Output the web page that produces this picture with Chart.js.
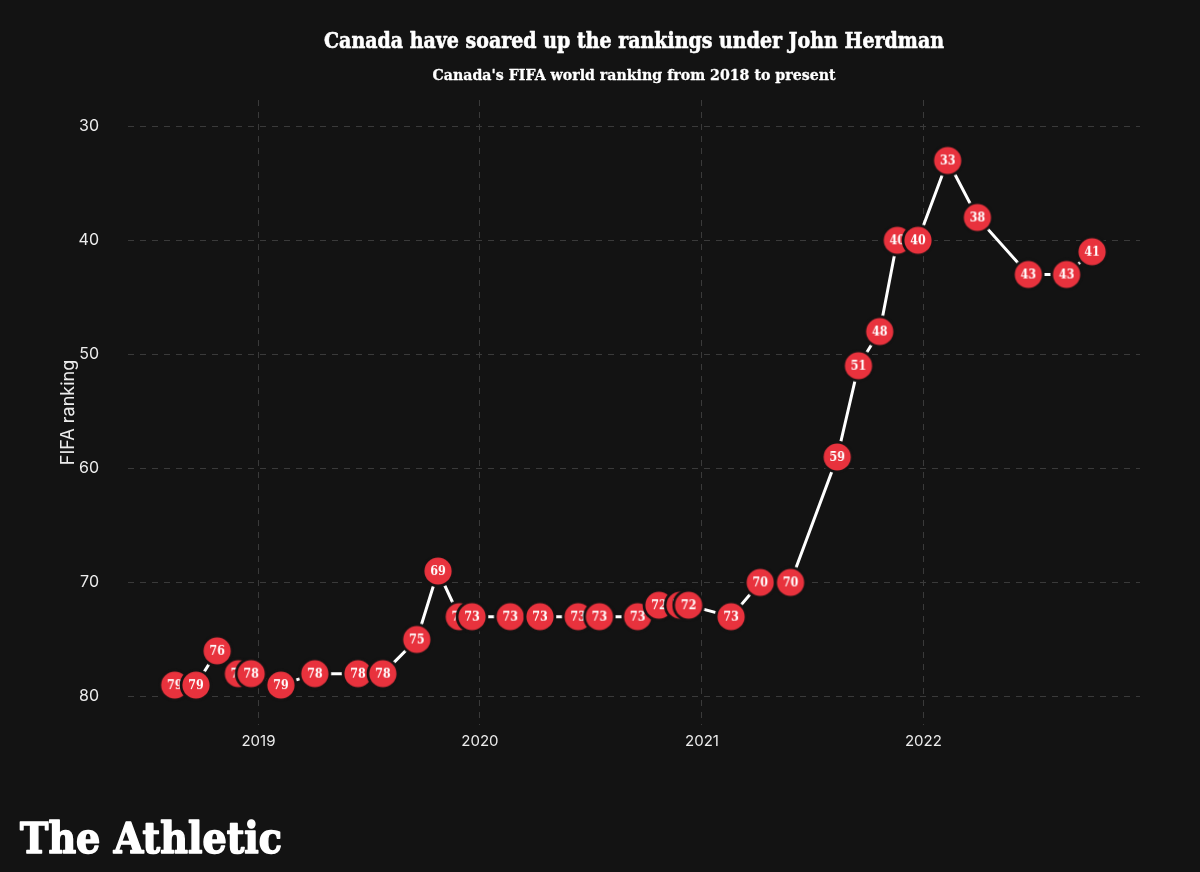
<!DOCTYPE html>
<html><head><meta charset="utf-8">
<script src="https://cdn.jsdelivr.net/npm/chart.js@4.4.1/dist/chart.umd.min.js"></script>
<style>html,body{margin:0;padding:0;background:#131313;}#wrap{width:1200px;height:872px;}</style>
</head><body><div id="wrap"><canvas id="c" width="1200" height="872"></canvas></div>
<script>
// ---- data ----
const dates = ['2018-08-16','2018-09-20','2018-10-25','2018-11-29','2018-12-20','2019-02-07','2019-04-04','2019-06-14','2019-07-25','2019-09-19','2019-10-24','2019-11-28','2019-12-19','2020-02-20','2020-04-09','2020-06-11','2020-07-16','2020-09-17','2020-10-22','2020-11-26','2020-12-10','2021-02-18','2021-04-07','2021-05-27','2021-08-12','2021-09-16','2021-10-21','2021-11-19','2021-12-23','2022-02-10','2022-03-31','2022-06-23','2022-08-25','2022-10-06'];
const rankings = [79,79,76,78,78,79,78,78,78,75,69,73,73,73,73,73,73,73,72,72,72,73,70,70,59,51,48,40,40,33,38,43,43,41];
const yearTicks = ['2019','2020','2021','2022'];
const rankTicks = [30,40,50,60,70,80];
const titleText = 'Canada have soared up the rankings under John Herdman';
const subtitleText = "Canada's FIFA world ranking from 2018 to present";
const yTitleText = 'FIFA ranking';
const logoText = 'The Athletic';

// ---- styles ----
const BG = '#131313';
const RED = '#e8323d';
const GRID = '#3a3a3a';
const TXT = '#ececec';
const DAY = 86400000;
const toDay = s => Date.parse(s + 'T00:00:00Z') / DAY;
const points = dates.map((d, i) => ({x: toDay(d), y: rankings[i]}));

function makeMarker(v) {
  const c = document.createElement('canvas');
  c.width = 34; c.height = 34;
  const g = c.getContext('2d');
  g.beginPath(); g.arc(17, 17, 16.3, 0, 2 * Math.PI); g.fillStyle = BG; g.fill();
  g.beginPath(); g.arc(17, 17, 13.6, 0, 2 * Math.PI); g.fillStyle = RED; g.fill();
  g.font = 'bold 13px "DejaVu Serif"';
  const t = String(v);
  const w = g.measureText(t).width;
  const s = Math.min(1, 15.5 / w);
  g.save(); g.translate(17, 17.7); g.scale(s, 1);
  g.textAlign = 'center'; g.textBaseline = 'middle'; g.fillStyle = '#ffffff';
  g.fillText(t, 0, 0); g.restore();
  return c;
}
const markers = rankings.map(makeMarker);

function fitText(ctx, text, font, x, baseline, targetW, align, stroke) {
  ctx.save();
  ctx.font = font;
  const w = ctx.measureText(text).width;
  const s = targetW / w;
  let left = align === 'center' ? x - targetW / 2 : x;
  ctx.translate(left, baseline);
  ctx.scale(s, 1);
  ctx.textAlign = 'left'; ctx.textBaseline = 'alphabetic';
  ctx.fillText(text, 0, 0);
  if (stroke) { ctx.lineWidth = stroke; ctx.strokeStyle = ctx.fillStyle; ctx.lineJoin = 'round'; ctx.strokeText(text, 0, 0); }
  ctx.restore();
}

const decor = {
  id: 'decor',
  beforeDraw(chart) {
    const ctx = chart.ctx;
    ctx.save(); ctx.fillStyle = BG; ctx.fillRect(0, 0, chart.width, chart.height); ctx.restore();
  },
  afterDraw(chart) {
    const ctx = chart.ctx, a = chart.chartArea;
    const cx = (a.left + a.right) / 2;
    ctx.save();
    ctx.fillStyle = '#ffffff';
    fitText(ctx, titleText, 'bold 21.5px "DejaVu Serif"', cx, 48, 620, 'center', 0.6);
    fitText(ctx, subtitleText, 'bold 15.5px "DejaVu Serif"', cx, 80, 403, 'center', 0.3);
    fitText(ctx, logoText, 'bold 43px "DejaVu Serif"', 20, 853, 262, 'left', 1.6);
    ctx.translate(69, (a.top + a.bottom) / 2);
    ctx.rotate(-Math.PI / 2);
    ctx.font = '18px Inter';
    ctx.fillStyle = TXT;
    ctx.textAlign = 'center'; ctx.textBaseline = 'middle';
    ctx.fillText(yTitleText, 0, 0);
    ctx.restore();
  }
};

new Chart(document.getElementById('c'), {
  type: 'line',
  data: {
    datasets: [{
      data: points,
      borderColor: '#ffffff',
      borderWidth: 3,
      pointStyle: markers,
      pointRadius: 13,
      pointHoverRadius: 13,
      tension: 0,
      clip: false
    }]
  },
  options: {
    responsive: false,
    animation: false,
    events: [],
    layout: {autoPadding: false, padding: {left: 0, right: 60, top: 100, bottom: 107}},
    plugins: {legend: {display: false}, title: {display: false}, tooltip: {enabled: false}},
    scales: {
      x: {
        type: 'linear',
        min: toDay('2018-05-31'),
        max: toDay('2022-12-24'),
        afterBuildTicks: s => { s.ticks = yearTicks.map(y => ({value: toDay(y + '-01-01')})); },
        afterFit: s => { s.height = 40; },
        ticks: {
          autoSkip: false, maxRotation: 0, padding: 7,
          color: TXT, font: {family: 'Inter', size: 15},
          callback: v => String(new Date(v * DAY).getUTCFullYear())
        },
        grid: {color: GRID, lineWidth: 1, drawTicks: false},
        border: {display: false, dash: [6, 6]}
      },
      y: {
        type: 'linear',
        reverse: true,
        min: 27.7,
        max: 82.5,
        afterBuildTicks: s => { s.ticks = rankTicks.map(v => ({value: v})); },
        afterFit: s => { s.width = 128; },
        ticks: {padding: 29, color: TXT, font: {family: 'Inter', size: 16}},
        grid: {color: GRID, lineWidth: 1, drawTicks: false},
        border: {display: false, dash: [6, 6]}
      }
    }
  },
  plugins: [decor]
});
</script>
</body></html>
